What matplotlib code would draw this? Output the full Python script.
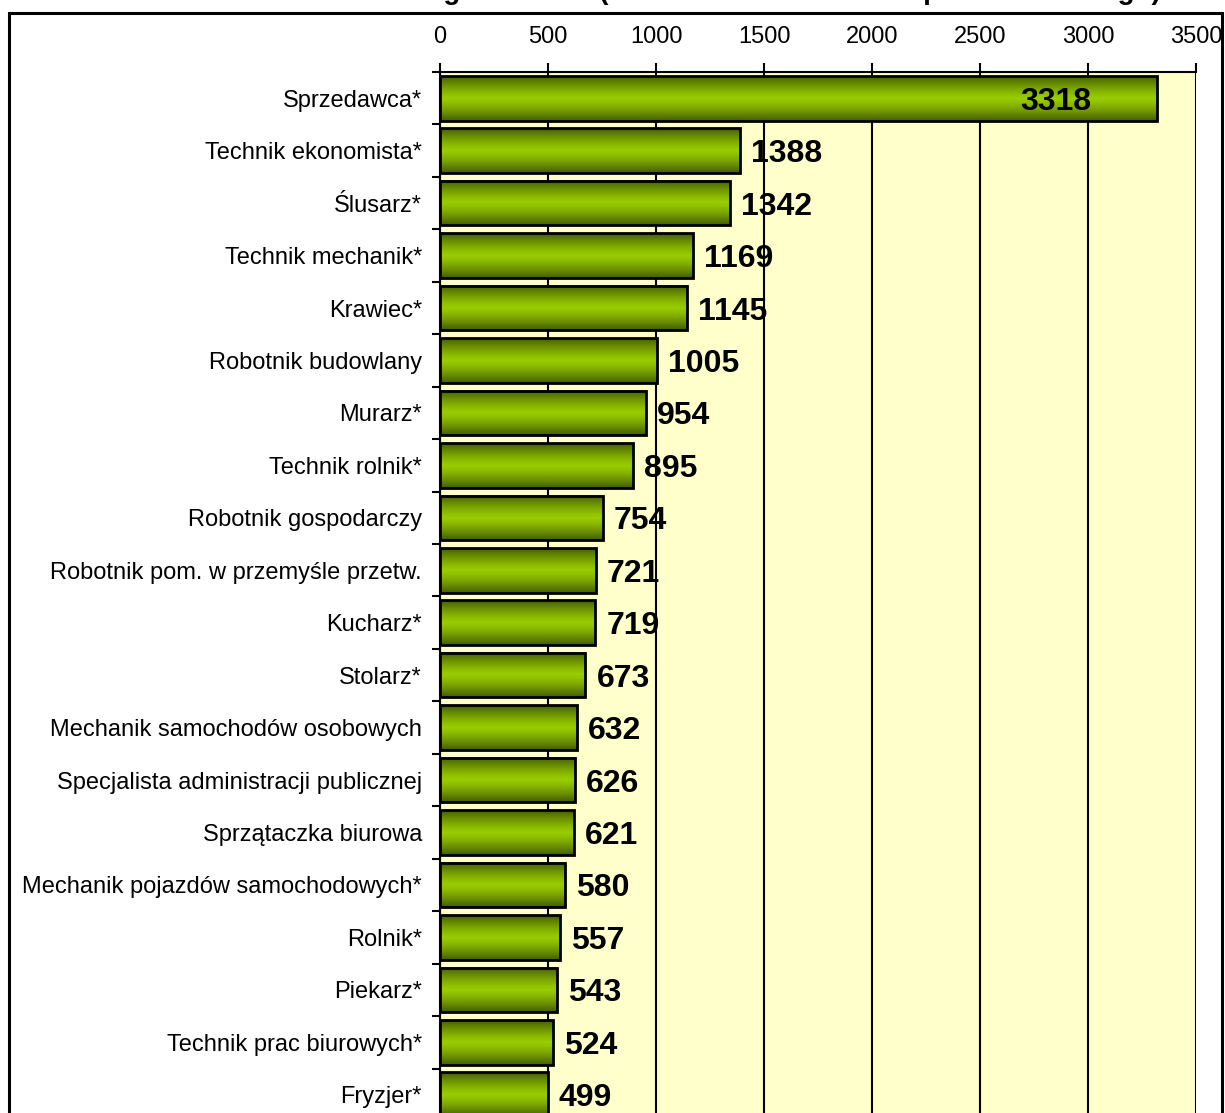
import matplotlib.pyplot as plt
import matplotlib.patches as mpatches
import numpy as np

# data
occupations = [
    "Sprzedawca*", "Technik ekonomista*", "Ślusarz*", "Technik mechanik*",
    "Krawiec*", "Robotnik budowlany", "Murarz*", "Technik rolnik*",
    "Robotnik gospodarczy", "Robotnik pom. w przemyśle przetw.", "Kucharz*",
    "Stolarz*", "Mechanik samochodów osobowych",
    "Specjalista administracji publicznej", "Sprzątaczka biurowa",
    "Mechanik pojazdów samochodowych*", "Rolnik*", "Piekarz*",
    "Technik prac biurowych*", "Fryzjer*",
]
counts = [3318, 1388, 1342, 1169, 1145, 1005, 954, 895, 754, 721, 719,
          673, 632, 626, 621, 580, 557, 543, 524, 499]
x_ticks = [0, 500, 1000, 1500, 2000, 2500, 3000, 3500]
title = "Bezrobotni według zawodów (stan na koniec okresu sprawozdawczego)"

plt.rcParams['font.family'] = ['Liberation Sans', 'DejaVu Sans']

W, H = 1225, 1113
fig = plt.figure(figsize=(W / 100, H / 100), dpi=100)
ax = fig.add_axes([440 / W, 1 - 1121 / H, 756 / W, (1121 - 72) / H])
ax.set_facecolor('#ffffcc')

# vertical gradient for the bars: dark edges, bright middle
t = np.linspace(-1, 1, 64)
dark = np.array([0x44, 0x5e, 0x00]) / 255
light = np.array([0x99, 0xcc, 0x00]) / 255
w = np.abs(t) ** 1.3
grad = (light[None, :] * (1 - w[:, None]) + dark[None, :] * w[:, None])
grad = grad[:, None, :]

bar_h = 0.85
ypos = np.arange(len(counts))
for y, v in zip(ypos, counts):
    ax.imshow(grad, extent=[0, v, y + bar_h / 2, y - bar_h / 2],
              aspect='auto', zorder=3, interpolation='bilinear')
    ax.add_patch(mpatches.Rectangle((0, y - bar_h / 2), v, bar_h, fill=False,
                                    edgecolor='black', linewidth=2, zorder=4))
    if v > 3000:
        ax.annotate(str(v), (v, y), xytext=(-47, 0), textcoords='offset points',
                    ha='right', va='center_baseline', fontsize=23,
                    fontweight='bold', zorder=5)
    else:
        ax.annotate(str(v), (v, y), xytext=(8, 0), textcoords='offset points',
                    ha='left', va='center_baseline', fontsize=23,
                    fontweight='bold', zorder=5)

ax.set_xlim(0, 3500)
ax.set_ylim(len(counts) - 0.5, -0.5)

ax.xaxis.tick_top()
ax.set_xticks(x_ticks)
ax.set_xticklabels([str(x) for x in x_ticks], fontsize=17)
ax.tick_params(axis='x', direction='out', length=6.5, width=1.5, pad=11)
ax.grid(axis='x', color='black', linewidth=1.5, zorder=1)
ax.set_axisbelow(True)

ax.set_yticks(np.arange(len(counts) + 1) - 0.5)
ax.set_yticklabels([])
ax.set_yticks(ypos, minor=True)
ax.set_yticklabels(occupations, minor=True, fontsize=17)
ax.tick_params(axis='y', which='major', direction='out', length=6, width=1.5)
ax.tick_params(axis='y', which='minor', length=0, pad=13)

for s in ['right', 'bottom']:
    ax.spines[s].set_visible(False)
ax.spines['top'].set_linewidth(1.5)
ax.spines['left'].set_linewidth(1.5)

# outer chart border and clipped title
fig.patches.append(mpatches.Rectangle((9 / W, -0.05), (1222 - 9) / W, 1.05 - 13 / H,
                                      transform=fig.transFigure, fill=False,
                                      edgecolor='black', linewidth=2.2))
fig.text(0.56, 1 + 1 / H, title, ha='center', va='baseline', fontsize=20,
         fontweight='bold')

fig.savefig('out.png', dpi=100)
